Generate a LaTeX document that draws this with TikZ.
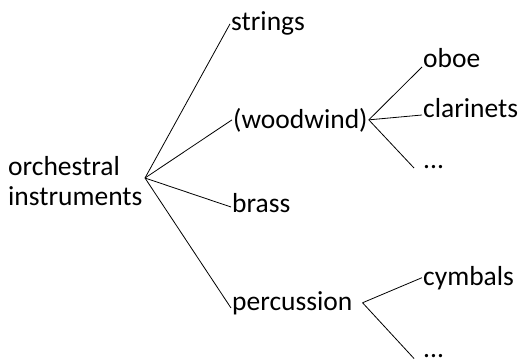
\documentclass[tikz,border=0pt]{standalone}
\usepackage{fontspec}
\setmainfont{Carlito}
\begin{document}
\begin{tikzpicture}[x=1pt,y=-1pt,
  lbl/.style={inner sep=1pt, font=\fontsize{27.5}{30}\selectfont, text=black},
  conn/.style={draw=black, line width=0.8pt}]
\useasboundingbox (0,0) rectangle (519,361);
\node[lbl, align=left, anchor=west] (root) at (7,181) {orchestral\\instruments};
\node[lbl, anchor=base west] (strings) at (230,31) {strings};
\node[lbl, anchor=base west] (wood) at (232,128) {(woodwind)};
\node[lbl, anchor=base west] (brass) at (231,212) {brass};
\node[lbl, anchor=base west] (perc) at (231,310) {percussion};
\node[lbl, anchor=base west] (oboe) at (422,67) {oboe};
\node[lbl, anchor=base west] (clar) at (422,117) {clarinets};
\node[lbl, anchor=base west] (wdots) at (422,168) {...};
\node[lbl, anchor=base west] (cymb) at (422,285) {cymbals};
\node[lbl, anchor=base west] (pdots) at (422,357.5) {...};
\coordinate (j1) at (145,178);
\draw[conn] (j1) -- (strings.west);
\draw[conn] (j1) -- (wood.west);
\draw[conn] (j1) -- ([yshift=5pt]brass.base west);
\draw[conn] (j1) -- ([yshift=2pt]perc.base west);
\draw[conn] (wood.east) -- (oboe.base west);
\draw[conn] (wood.east) -- ([yshift=2pt]clar.base west);
\draw[conn] (wood.east) -- ([xshift=-8pt]wdots.base west);
\draw[conn] ([xshift=9pt]perc.east) -- (cymb.west);
\draw[conn] ([xshift=9pt]perc.east) -- ([xshift=-8pt,yshift=-1pt]pdots.base west);
\end{tikzpicture}
\end{document}
